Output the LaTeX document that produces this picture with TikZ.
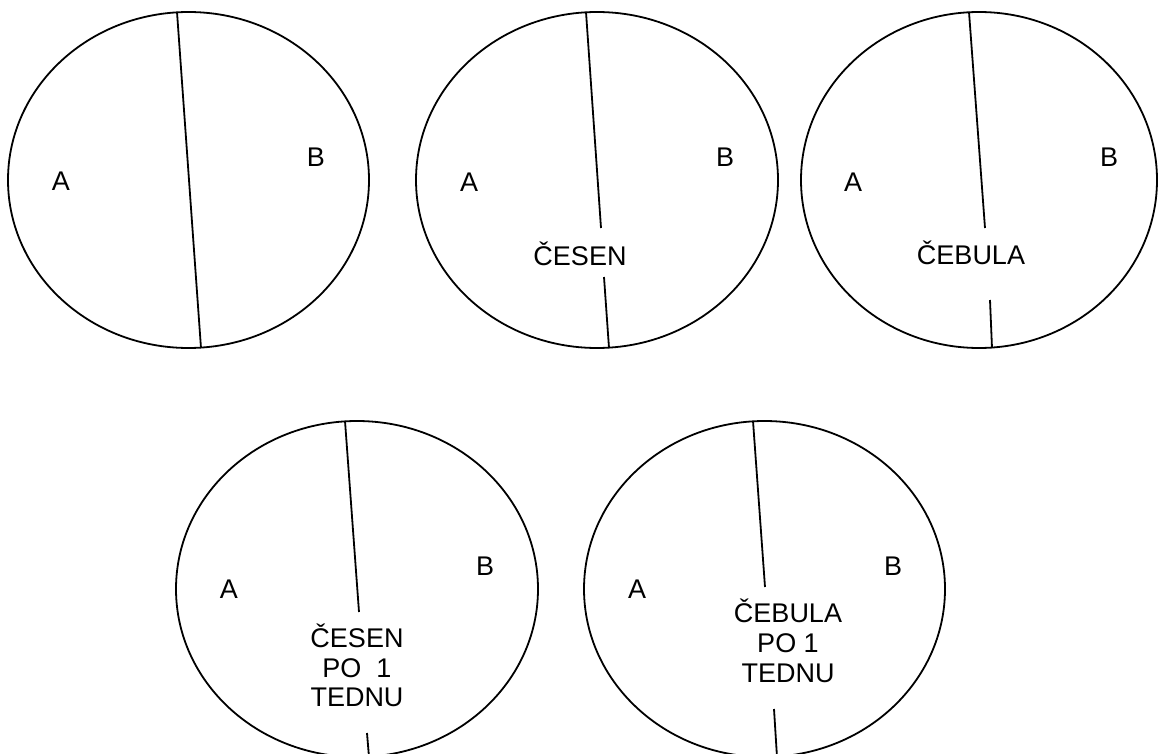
\documentclass[tikz,border=0pt]{standalone}
\usepackage{fontspec}
\setmainfont{Liberation Sans}
\usetikzlibrary{shapes.geometric}
\begin{document}
\begin{tikzpicture}[x=1pt,y=-1pt,
  oval/.style={draw=black,line width=1.8pt,ellipse,inner sep=0pt},
  divider/.style={draw=black,line width=1.8pt},
  lbl/.style={inner sep=0pt,anchor=base,font=\fontsize{27}{32}\selectfont}]
\useasboundingbox (0,0) rectangle (1159,754);
% ellipses
\node[oval,minimum width=361pt,minimum height=336pt] (e1) at (188.5,180) {};
\node[oval,minimum width=362pt,minimum height=336pt] (e2) at (597,180) {};
\node[oval,minimum width=356pt,minimum height=336pt] (e3) at (979,180) {};
\node[oval,minimum width=362pt,minimum height=336pt] (e4) at (357,589) {};
\node[oval,minimum width=361pt,minimum height=336pt] (e5) at (764.5,589) {};
% divider end points
\coordinate (t1) at (177,12);  \coordinate (b1) at (201,348);
\coordinate (t2) at (586,12);  \coordinate (m2) at (601,228);
\coordinate (n2) at (604,277); \coordinate (b2) at (609,348);
\coordinate (t3) at (969,12);  \coordinate (m3) at (985,228);
\coordinate (n3) at (990,300); \coordinate (b3) at (992,348);
\coordinate (t4) at (345,421); \coordinate (m4) at (359,612);
\coordinate (n4) at (367,733); \coordinate (b4) at (369,757);
\coordinate (t5) at (753,421); \coordinate (m5) at (765,587);
\coordinate (n5) at (774,709); \coordinate (b5) at (777,757);
\draw[divider] (t1) -- (b1);
\draw[divider] (t2) -- (m2);
\draw[divider] (n2) -- (b2);
\draw[divider] (t3) -- (m3);
\draw[divider] (n3) -- (b3);
\draw[divider] (t4) -- (m4);
\draw[divider] (n4) -- (b4);
\draw[divider] (t5) -- (m5);
\draw[divider] (n5) -- (b5);
% labels
\node[lbl] (a1) at (61,191) {A};
\node[lbl] (bb1) at (316,167) {B};
\node[lbl] (a2) at (469,192) {A};
\node[lbl] (bb2) at (725,167) {B};
\node[lbl] (c2) at (580,265) {ČESEN};
\node[lbl] (a3) at (853,192) {A};
\node[lbl] (bb3) at (1109,167) {B};
\node[lbl] (c3) at (971,264) {ČEBULA};
\node[lbl] (a4) at (229,598) {A};
\node[lbl] (bb4) at (485,575) {B};
\node[lbl] (c4a) at (357,647) {ČESEN};
\node[lbl] (c4b) at (357,677) {PO\ \ 1};
\node[lbl] (c4c) at (357,706) {TEDNU};
\node[lbl] (a5) at (637,598) {A};
\node[lbl] (bb5) at (893,575) {B};
\node[lbl] (c5a) at (788,622) {ČEBULA};
\node[lbl] (c5b) at (788,652) {PO 1};
\node[lbl] (c5c) at (788,682) {TEDNU};
\end{tikzpicture}
\end{document}
